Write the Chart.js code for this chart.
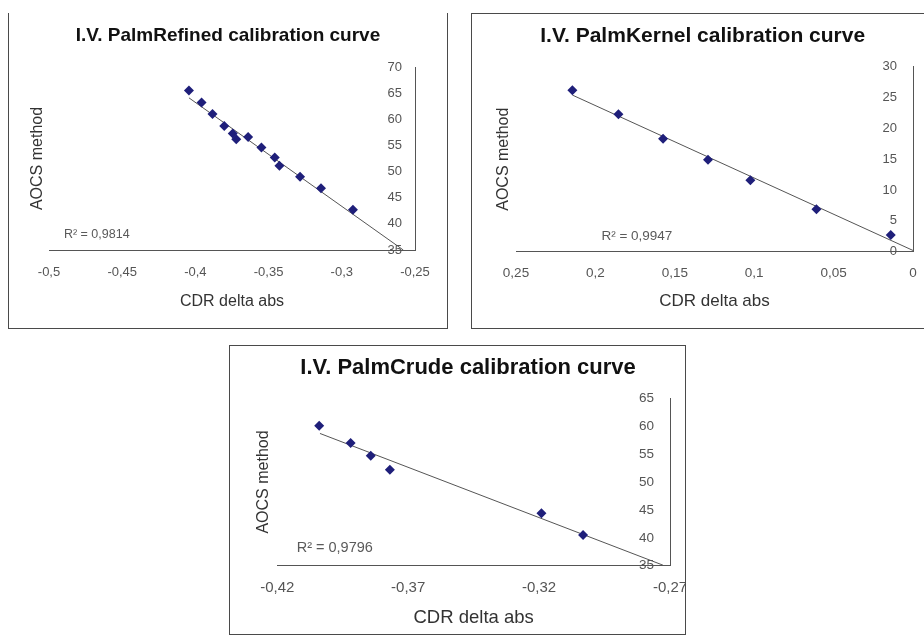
<!DOCTYPE html>
<html>
<head>
<meta charset="utf-8">
<title>I.V. calibration curves</title>
<script src="https://cdn.jsdelivr.net/npm/chart.js@4/dist/chart.umd.min.js"></script>
<style>
  body { margin: 0; background: #fff; width: 924px; height: 637px; position: relative; overflow: hidden; }
  .box { position: absolute; border: 1px solid #4a4a4a; background: #fff; }
  .box canvas { display: block; }
  #box1 { left: 8px; top: 13px; border-top: none; }
  #box2 { left: 471px; top: 13px; border-right: none; }
  #box3 { left: 229px; top: 345px; }
</style>
</head>
<body>
<div class="box" id="box1"><canvas id="chart1" width="438" height="315"></canvas></div>
<div class="box" id="box2"><canvas id="chart2" width="452" height="314"></canvas></div>
<div class="box" id="box3"><canvas id="chart3" width="455" height="288"></canvas></div>

<script>
// PalmRefined
const refinedX = [-0.4044, -0.3958, -0.3883, -0.3803, -0.3745, -0.3721, -0.364, -0.3549, -0.3458, -0.3426, -0.3285, -0.3142, -0.2924];
const refinedY = [65.5, 63.2, 61.0, 58.7, 57.3, 56.2, 56.6, 54.6, 52.7, 51.1, 49.0, 46.8, 42.7];
const refinedTrendX = [-0.4044, -0.258];
const refinedTrendY = [64.1, 35];
const refinedXTicks = [-0.5, -0.45, -0.4, -0.35, -0.3, -0.25];
const refinedYTicks = [35, 40, 45, 50, 55, 60, 65, 70];
const refinedR2 = "R² = 0,9814";

// PalmKernel
const kernelX = [0.2145, 0.1855, 0.1574, 0.1291, 0.1024, 0.0608, 0.014];
const kernelY = [26.2, 22.3, 18.3, 14.9, 11.6, 6.9, 2.7];
const kernelTrendX = [0.2145, 0];
const kernelTrendY = [25.4, 0.2];
const kernelXTicks = [0.25, 0.2, 0.15, 0.1, 0.05, 0];
const kernelYTicks = [0, 5, 10, 15, 20, 25, 30];
const kernelR2 = "R² = 0,9947";

// PalmCrude
const crudeX = [-0.404, -0.392, -0.3843, -0.377, -0.3191, -0.3032];
const crudeY = [60.1, 57.0, 54.7, 52.2, 44.4, 40.5];
const crudeTrendX = [-0.4037, -0.2727];
const crudeTrendY = [58.7, 35.1];
const crudeXTicks = [-0.42, -0.37, -0.32, -0.27];
const crudeYTicks = [35, 40, 45, 50, 55, 60, 65];
const crudeR2 = "R² = 0,9796";

const FONT = "'Liberation Sans', Arial, sans-serif";
const markerColor = "#1f1f7a";
const lineColor = "#555555";

function fmt(v) {
    return String(Math.round(v * 100) / 100).replace(".", ",");
}

// moves the title block sideways, the original titles are not centred on the box
const shiftTitle = {
    id: "shiftTitle",
    afterLayout(chart, args, opts) {
        const t = chart.titleBlock;
        if (t && opts.dx) {
            t.left += opts.dx;
            t.right += opts.dx;
        }
    }
};

// R² label, placed in data units
const r2Label = {
    id: "r2Label",
    afterDatasetsDraw(chart, args, opts) {
        const ctx = chart.ctx;
        ctx.save();
        ctx.font = opts.size + "px " + FONT;
        ctx.fillStyle = "#5a5a5a";
        ctx.textAlign = "left";
        ctx.textBaseline = "middle";
        ctx.fillText(opts.text, chart.scales.x.getPixelForValue(opts.x), chart.scales.y.getPixelForValue(opts.y));
        ctx.restore();
    }
};

function makeChart(id, c) {
    const points = c.xs.map((x, i) => ({x: x, y: c.ys[i]}));
    const trend = c.trendX.map((x, i) => ({x: x, y: c.trendY[i]}));

    return new Chart(document.getElementById(id), {
        type: "scatter",
        data: {
            datasets: [
                {
                    data: points,
                    pointStyle: "rectRot",
                    pointRadius: 5,
                    backgroundColor: markerColor,
                    borderColor: markerColor,
                    borderWidth: 0
                },
                {
                    data: trend,
                    showLine: true,
                    pointRadius: 0,
                    borderColor: lineColor,
                    borderWidth: 1
                }
            ]
        },
        options: {
            responsive: false,
            animation: false,
            layout: {padding: 0},
            plugins: {
                legend: {display: false},
                tooltip: {enabled: false},
                title: {
                    display: true,
                    text: c.title,
                    color: "#111",
                    font: {family: FONT, size: c.titleSize, weight: "bold"},
                    padding: {top: c.titlePadTop, bottom: c.titlePadBottom}
                },
                shiftTitle: {dx: c.titleDx},
                r2Label: {text: c.r2, x: c.r2x, y: c.r2y, size: c.r2Size}
            },
            scales: {
                x: {
                    type: "linear",
                    position: "bottom",
                    min: c.xMin,
                    max: c.xMax,
                    reverse: c.reverse,
                    grid: {display: false, drawTicks: false},
                    border: {display: true, color: lineColor, width: 1},
                    ticks: {
                        color: "#555",
                        font: {family: FONT, size: c.xTickSize},
                        padding: c.xTickPad,
                        maxRotation: 0,
                        autoSkip: false,
                        callback: v => fmt(v)
                    },
                    afterBuildTicks: s => { s.ticks = c.xTicks.map(v => ({value: v})); },
                    title: {
                        display: true,
                        text: "CDR delta abs",
                        color: "#333",
                        font: {family: FONT, size: c.xTitleSize},
                        padding: {top: 0, bottom: c.xTitlePad}
                    },
                    afterFit: s => { s.height = c.bottomH; s.paddingLeft = 0; s.paddingRight = 0; }
                },
                y: {
                    type: "linear",
                    position: "right",
                    min: c.yMin,
                    max: c.yMax,
                    grid: {display: false, drawTicks: false},
                    border: {display: true, color: lineColor, width: 1},
                    ticks: {
                        // labels sit inside the plot, left of the axis line
                        mirror: true,
                        color: "#555",
                        font: {family: FONT, size: c.yTickSize},
                        padding: -c.yTickGap,
                        autoSkip: false,
                        callback: v => fmt(v)
                    },
                    afterBuildTicks: s => { s.ticks = c.yTicks.map(v => ({value: v})); },
                    afterFit: s => { s.width = c.rightW; s.paddingTop = 0; s.paddingBottom = 0; }
                },
                yTitle: {
                    type: "linear",
                    position: "left",
                    grid: {display: false, drawTicks: false},
                    border: {display: false},
                    ticks: {display: false},
                    title: {
                        display: true,
                        text: "AOCS method",
                        color: "#333",
                        font: {family: FONT, size: c.yTitleSize},
                        padding: {top: c.yTitlePad, bottom: 0}
                    },
                    afterFit: s => { s.width = c.leftW; }
                }
            }
        },
        plugins: [shiftTitle, r2Label]
    });
}

makeChart("chart1", {
    title: "I.V. PalmRefined calibration curve",
    xs: refinedX, ys: refinedY, trendX: refinedTrendX, trendY: refinedTrendY,
    xTicks: refinedXTicks, yTicks: refinedYTicks,
    xMin: -0.5, xMax: -0.25, yMin: 35, yMax: 70, reverse: false,
    r2: refinedR2, r2x: -0.4898, r2y: 37.9, r2Size: 12.5,
    titleSize: 19, titlePadTop: 11.6, titlePadBottom: 19.6, titleDx: 0,
    xTitleSize: 16, xTitlePad: 16.6, xTickSize: 13, xTickPad: 15,
    yTitleSize: 16, yTitlePad: 19.4, yTickSize: 13, yTickGap: 13,
    leftW: 40, rightW: 32, bottomH: 78
});

makeChart("chart2", {
    title: "I.V. PalmKernel calibration curve",
    xs: kernelX, ys: kernelY, trendX: kernelTrendX, trendY: kernelTrendY,
    xTicks: kernelXTicks, yTicks: kernelYTicks,
    xMin: 0, xMax: 0.25, yMin: 0, yMax: 30, reverse: true,
    r2: kernelR2, r2x: 0.1962, r2y: 2.5, r2Size: 13.5,
    titleSize: 21, titlePadTop: 9.4, titlePadBottom: 18.1, titleDx: 4.7,
    xTitleSize: 17, xTitlePad: 16, xTickSize: 13.5, xTickPad: 13.5,
    yTitleSize: 16, yTitlePad: 21.7, yTickSize: 13, yTickGap: 16,
    leftW: 44, rightW: 11, bottomH: 76.3
});

makeChart("chart3", {
    title: "I.V. PalmCrude calibration curve",
    xs: crudeX, ys: crudeY, trendX: crudeTrendX, trendY: crudeTrendY,
    xTicks: crudeXTicks, yTicks: crudeYTicks,
    xMin: -0.42, xMax: -0.27, yMin: 35, yMax: 65, reverse: false,
    r2: crudeR2, r2x: -0.4126, r2y: 38.2, r2Size: 14.5,
    titleSize: 22, titlePadTop: 8.8, titlePadBottom: 17.1, titleDx: 10.5,
    xTitleSize: 18.5, xTitlePad: 5.2, xTickSize: 15, xTickPad: 13,
    yTitleSize: 16, yTitlePad: 24.4, yTickSize: 13.5, yTickGap: 16,
    leftW: 47.3, rightW: 15, bottomH: 68.3
});
</script>
</body>
</html>
